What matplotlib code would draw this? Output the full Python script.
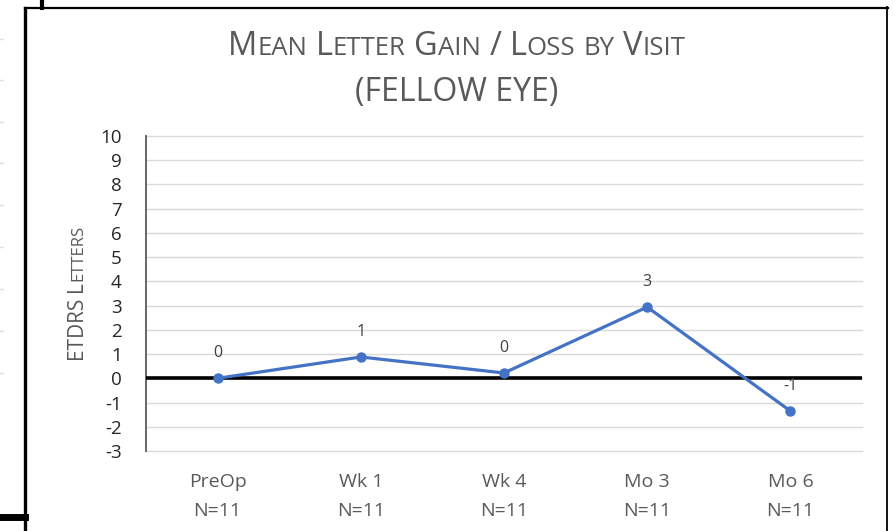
import matplotlib
matplotlib.use("Agg")
import matplotlib.pyplot as plt
from matplotlib.lines import Line2D

# chart data
visits = ["PreOp", "Wk 1", "Wk 4", "Mo 3", "Mo 6"]
n_counts = [11, 11, 11, 11, 11]
mean_gain = [0.0, 0.88, 0.22, 2.94, -1.35]
y_ticks = list(range(-3, 11))

title_words = [("M", "EAN"), ("L", "ETTER"), ("G", "AIN"), ("/", ""),
               ("L", "OSS"), ("", "BY"), ("V", "ISIT")]
title_line2 = "(FELLOW EYE)"
ylabel_words = [("ETDRS", ""), ("L", "ETTERS")]

FONT = "Open Sans"
plt.rcParams["font.family"] = [FONT, "DejaVu Sans"]
plt.rcParams["axes.unicode_minus"] = False

W, H = 895, 531
fig = plt.figure(figsize=(W / 100, H / 100), dpi=100)
fig.patch.set_facecolor("white")
renderer = fig.canvas.get_renderer()


def px(x, y):
    """pixel position (top-left origin) -> figure fraction"""
    return x / W, 1 - y / H


def text_width(s, size):
    t = fig.text(0, 0, s, fontsize=size)
    w = t.get_window_extent(renderer=renderer).width
    t.remove()
    return w


def small_caps(words, big, small, cx, cy, rotation=0, color="#595959"):
    """draw Excel-like small caps text centred at pixel (cx, cy) (cy = baseline)"""
    space = text_width("a a", big) - text_width("aa", big)
    pieces = []
    for i, (caps, rest) in enumerate(words):
        if i > 0:
            pieces.append((None, space))
        if caps:
            pieces.append(((caps, big), text_width(caps, big)))
        if rest:
            pieces.append(((rest, small), text_width(rest, small)))
    total = sum(w for _, w in pieces)
    pos = -total / 2
    for item, w in pieces:
        if item is not None:
            s, size = item
            if rotation == 0:
                x, y = px(cx + pos, cy)
            else:
                x, y = px(cx, cy - pos)
            fig.text(x, y, s, fontsize=size, color=color, ha="left",
                     va="baseline", rotation=rotation, rotation_mode="anchor")
        pos += w


# axes
ax = fig.add_axes([146 / W, 1 - 451 / H, (862 - 146) / W, (451 - 136) / H])
x = list(range(len(visits)))
ax.set_xlim(-0.5, len(visits) - 0.5)
ax.set_ylim(-3, 10)
ax.set_yticks(y_ticks)
ax.set_xticks(x)
ax.set_xticklabels([f"{v}\nN={n}" for v, n in zip(visits, n_counts)],
                   linespacing=1.75)
ax.grid(axis="y", color="#D9D9D9", linewidth=1)
for gl in ax.get_ygridlines():
    gl.set_clip_on(False)
ax.set_axisbelow(True)
for side in ["top", "right", "bottom"]:
    ax.spines[side].set_visible(False)
ax.spines["left"].set_color("#595959")
ax.spines["left"].set_linewidth(1.3)
ax.tick_params(axis="y", length=0, pad=17.5, labelsize=13.5, labelcolor="#262626")
ax.tick_params(axis="x", length=0, pad=16, labelsize=14, labelcolor="#595959")

ax.axhline(0, color="black", linewidth=2.6, zorder=3)
ax.plot(x, mean_gain, color="#4472C4", linewidth=2.3, marker="o",
        markersize=6.5, zorder=4, clip_on=False)
for xi, v in zip(x, mean_gain):
    ax.annotate(f"{v:.0f}", (xi, v), xytext=(0, 18), textcoords="offset points",
                ha="center", va="center", fontsize=11.5, color="#404040")

# titles
small_caps(title_words, 23.5, 18.5, 457, 55)
fig.text(*px(457, 101), title_line2, fontsize=23, color="#595959",
         ha="center", va="baseline")
small_caps(ylabel_words, 15, 12, 82, 292, rotation=90)

# screenshot frame
frame = [
    ((25.5, 25.5), (8, 531), 2.4),
    ((25, 888), (7.8, 7.8), 1.6),
    ((887.3, 887.3), (7, 531), 1.3),
    ((42, 42), (0, 8), 3.0),
    ((0, 25), (517, 517), 5.0),
]
for xs, ys, lw in frame:
    fx = [px(xx, 0)[0] for xx in xs]
    fy = [px(0, yy)[1] for yy in ys]
    fig.add_artist(Line2D(fx, fy, color="black", linewidth=lw,
                          transform=fig.transFigure))
for yy in [39, 80, 122, 163, 205, 247, 289, 331, 373]:
    fig.add_artist(Line2D([0, 3 / W], [1 - yy / H] * 2, color="#E0E0E0",
                          linewidth=1, transform=fig.transFigure))

fig.savefig("out.png", dpi=100)
